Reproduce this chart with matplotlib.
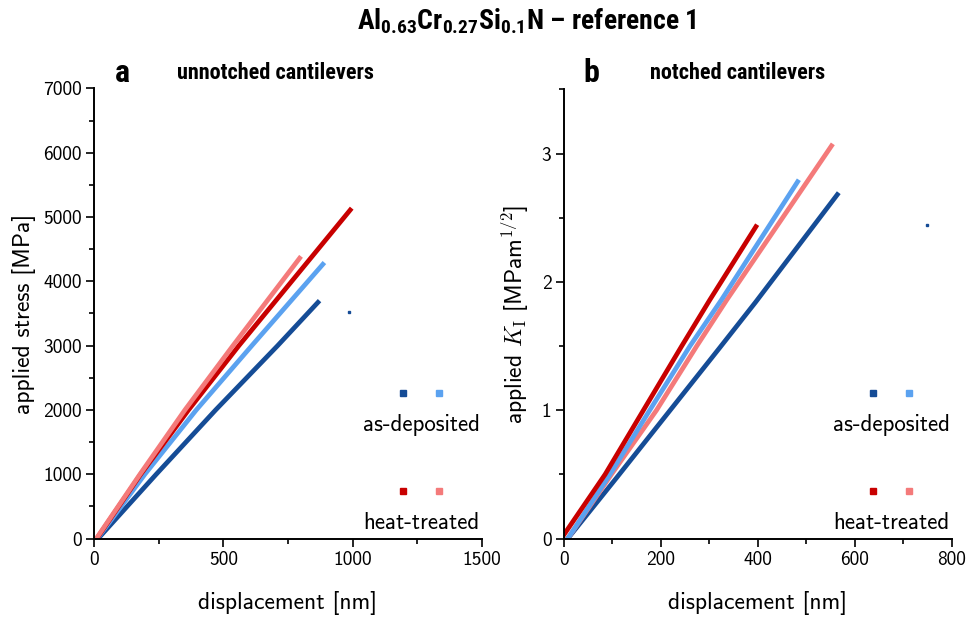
import matplotlib
matplotlib.use("Agg")
import matplotlib.pyplot as plt
from matplotlib import font_manager

# panel a, unnotched: displacement [nm] vs applied stress [MPa]
a_dep1_x = [15, 240, 470, 710, 866]
a_dep1_y = [0, 1000, 2000, 3000, 3673]
a_dep2_x = [12, 196, 395, 610, 885]
a_dep2_y = [0, 1000, 2000, 3000, 4265]
a_ht1_x = [10, 180, 365, 560, 991]
a_ht1_y = [0, 1000, 2000, 3000, 5110]
a_ht2_x = [8, 177, 351, 537, 795]
a_ht2_y = [0, 1000, 2000, 3000, 4360]
a_stray_x = [988]
a_stray_y = [3525]

# panel b, notched: displacement [nm] vs applied K_I [MPa m^1/2]
b_dep1_x = [8, 110, 215, 320, 395, 564]
b_dep1_y = [0, 0.48, 0.98, 1.48, 1.84, 2.68]
b_dep2_x = [8, 95, 177, 260, 325, 482]
b_dep2_y = [0, 0.5, 1.0, 1.5, 1.86, 2.78]
b_ht1_x = [0, 85, 164, 243, 301, 396]
b_ht1_y = [0.03, 0.5, 1.0, 1.5, 1.86, 2.43]
b_ht2_x = [8, 98, 191, 274, 336, 552]
b_ht2_y = [0, 0.5, 1.0, 1.5, 1.86, 3.06]
b_stray_x = [750]
b_stray_y = [2.44]

c_dep1 = "#154c96"
c_dep2 = "#5ba2f0"
c_ht1 = "#c80000"
c_ht2 = "#f47a7a"

names = {f.name for f in font_manager.fontManager.ttflist}
bold_fam = "DejaVu Sans"
for n in ["Liberation Sans Narrow", "Roboto Condensed", "Open Sans Condensed"]:
    if n in names:
        bold_fam = n
        break

plt.rcParams["font.family"] = "cmss10"
plt.rcParams["axes.unicode_minus"] = False
plt.rcParams["mathtext.fontset"] = "custom"
plt.rcParams["mathtext.rm"] = bold_fam + ":bold"
plt.rcParams["mathtext.bf"] = bold_fam + ":bold"

fig = plt.figure(figsize=(9.67, 6.17), dpi=100)
ax1 = fig.add_axes([0.0975, 0.1272, 0.4006, 0.7294])
ax2 = fig.add_axes([0.5832, 0.1272, 0.4010, 0.7280])

lw = 3.4


def style(ax):
    for s in ["top", "right"]:
        ax.spines[s].set_visible(False)
    for s in ["left", "bottom"]:
        ax.spines[s].set_linewidth(1.4)
    ax.tick_params(which="major", direction="out", length=6, width=1.2, labelsize=14, pad=3)
    ax.tick_params(which="minor", direction="out", length=3.5, width=1.2)


def legend(ax):
    ax.plot([0.798], [0.324], "s", color=c_dep1, ms=3.8, transform=ax.transAxes, clip_on=False)
    ax.plot([0.891], [0.324], "s", color=c_dep2, ms=3.8, transform=ax.transAxes, clip_on=False)
    ax.text(0.995, 0.252, "as-deposited", transform=ax.transAxes, ha="right", va="center", fontsize=16.5)
    ax.plot([0.798], [0.106], "s", color=c_ht1, ms=3.8, transform=ax.transAxes, clip_on=False)
    ax.plot([0.891], [0.106], "s", color=c_ht2, ms=3.8, transform=ax.transAxes, clip_on=False)
    ax.text(0.995, 0.034, "heat-treated", transform=ax.transAxes, ha="right", va="center", fontsize=16.5)


# a
ax1.plot(a_dep1_x, a_dep1_y, color=c_dep1, lw=lw)
ax1.plot(a_dep2_x, a_dep2_y, color=c_dep2, lw=lw)
ax1.plot(a_ht1_x, a_ht1_y, color=c_ht1, lw=lw)
ax1.plot(a_ht2_x, a_ht2_y, color=c_ht2, lw=lw)
ax1.plot(a_stray_x, a_stray_y, "s", color=c_dep1, ms=2)
ax1.set_xlim(0, 1500)
ax1.set_ylim(0, 7000)
ax1.set_xticks([0, 500, 1000, 1500])
ax1.set_xticks([250, 750, 1250], minor=True)
ax1.set_yticks(range(0, 7001, 1000))
ax1.set_yticks(range(500, 7000, 1000), minor=True)
style(ax1)
ax1.set_xlabel("displacement [nm]", fontsize=17, labelpad=16)
ax1.set_ylabel("applied stress [MPa]", fontsize=17, labelpad=5)
legend(ax1)

# b
ax2.plot(b_dep1_x, b_dep1_y, color=c_dep1, lw=lw)
ax2.plot(b_ht2_x, b_ht2_y, color=c_ht2, lw=lw)
ax2.plot(b_dep2_x, b_dep2_y, color=c_dep2, lw=lw)
ax2.plot(b_ht1_x, b_ht1_y, color=c_ht1, lw=lw)
ax2.plot(b_stray_x, b_stray_y, "s", color=c_dep1, ms=2)
ax2.set_xlim(0, 800)
ax2.set_ylim(0, 3.5)
ax2.set_xticks([0, 200, 400, 600, 800])
ax2.set_xticks([100, 300, 500, 700], minor=True)
ax2.set_yticks([0, 1, 2, 3])
ax2.set_yticks([0.5, 1.5, 2.5, 3.5], minor=True)
style(ax2)
ax2.set_xlabel("displacement [nm]", fontsize=17, labelpad=16)
ylab = ax2.set_ylabel(r"applied $K_\mathrm{I}$ [MPam$^{\mathsf{1/2}}$]", fontsize=17, labelpad=8)
ylab.set_math_fontfamily("cm")
legend(ax2)

# title and panel headings
fig.text(0.545, 0.965, r"Al$_{0.63}$Cr$_{0.27}$Si$_{0.1}$N – reference 1", ha="center", va="center",
         fontsize=20, fontweight="bold", family=bold_fam, fontstretch="condensed")
fig.text(0.127, 0.882, "a", ha="center", va="center", fontsize=23, fontweight="bold", family=bold_fam)
fig.text(0.183, 0.882, "unnotched cantilevers", ha="left", va="center", fontsize=16,
         fontweight="bold", family=bold_fam, fontstretch="condensed")
fig.text(0.612, 0.882, "b", ha="center", va="center", fontsize=23, fontweight="bold", family=bold_fam)
fig.text(0.672, 0.882, "notched cantilevers", ha="left", va="center", fontsize=16,
         fontweight="bold", family=bold_fam, fontstretch="condensed")

fig.savefig("out.png", dpi=100)
